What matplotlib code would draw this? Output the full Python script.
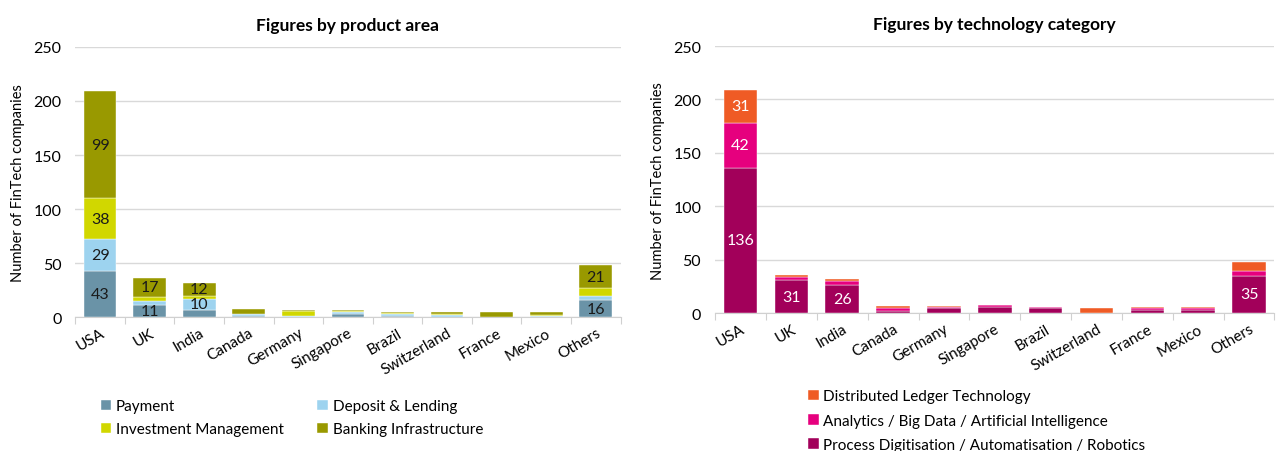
import numpy as np
import matplotlib.pyplot as plt

plt.rcParams['font.family'] = ['Lato', 'DejaVu Sans']

countries = ["USA", "UK", "India", "Canada", "Germany", "Singapore", "Brazil",
             "Switzerland", "France", "Mexico", "Others"]

# product area
payment = [43, 11, 7, 1, 0, 3, 1, 0, 0, 0, 16]
deposit = [29, 4, 10, 2, 1, 2, 2, 2, 0, 1, 4]
investment = [38, 4, 3, 0, 5, 1, 1, 1, 0, 1, 7]
banking = [99, 17, 12, 5, 1, 1, 1, 2, 5, 3, 21]

# technology category
process = [136, 31, 26, 2, 5, 6, 5, 0, 3, 3, 35]
analytics = [42, 3, 4, 3, 1, 2, 1, 0, 2, 2, 4]
ledger = [31, 2, 2, 2, 1, 0, 0, 5, 1, 1, 9]

fig = plt.figure(figsize=(12.77, 4.52), dpi=100)
ax1 = fig.add_axes([0.059, 0.296, 0.427, 0.598])
ax2 = fig.add_axes([0.560, 0.305, 0.438, 0.591])

x = np.arange(len(countries))


def draw(ax, series, names, colors, txtcolor, title):
    bottom = np.zeros(len(countries))
    for vals, name, col in zip(series, names, colors):
        vals = np.array(vals, dtype=float)
        ax.bar(x, vals, 0.66, bottom=bottom, color=col, label=name,
               edgecolor='white', linewidth=0.3, zorder=3)
        for i, v in enumerate(vals):
            if v >= 10:
                ax.text(x[i], bottom[i] + v / 2, f"{int(v)}", ha='center', va='center',
                        fontsize=11.5, color=txtcolor, zorder=4)
        bottom += vals
    ax.set_ylim(0, 250)
    ax.set_xlim(-0.5, len(countries) - 0.5)
    ax.set_yticks(range(0, 251, 50))
    ax.yaxis.grid(True, color='#d9d9d9', linewidth=1, zorder=0)
    ax.set_axisbelow(True)
    for s in ['top', 'right', 'left']:
        ax.spines[s].set_visible(False)
    ax.spines['bottom'].set_color('#d0d0d0')
    ax.set_xticks(np.arange(-0.5, len(countries), 1))
    ax.set_xticklabels([])
    ax.set_xticks(x, minor=True)
    ax.set_xticklabels(countries, minor=True, rotation=30, ha='right', fontsize=11,
                       rotation_mode='anchor')
    ax.tick_params(axis='x', which='major', length=5, color='#d0d0d0')
    ax.tick_params(axis='x', which='minor', length=0, pad=6)
    ax.tick_params(axis='y', length=0, labelsize=11.5, pad=10)
    ax.set_ylabel("Number of FinTech companies", fontsize=10.5, labelpad=6)
    ax.set_title(title, fontsize=12.5, fontweight='bold', pad=12)


draw(ax1, [payment, deposit, investment, banking],
     ["Payment", "Deposit & Lending", "Investment Management", "Banking Infrastructure"],
     ['#6a93a7', '#9dd3ef', '#d1d700', '#999900'], '#1a1a1a', "Figures by product area")
draw(ax2, [process, analytics, ledger],
     ["Process Digitisation / Automatisation / Robotics",
      "Analytics / Big Data / Artificial Intelligence",
      "Distributed Ledger Technology"],
     ['#a2005a', '#e6007e', '#ef5b25'], 'white', "Figures by technology category")

h, l = ax1.get_legend_handles_labels()
order = [0, 2, 1, 3]
fig.legend([h[i] for i in order], [l[i] for i in order], ncol=2, loc='upper left',
           bbox_to_anchor=(0.074, 0.128), frameon=False,
           fontsize=11, handlelength=0.7, handleheight=0.7, handletextpad=0.3,
           columnspacing=2.2, labelspacing=0.6, borderaxespad=0)

h, l = ax2.get_legend_handles_labels()
fig.legend(h[::-1], l[::-1], ncol=1, loc='upper left', bbox_to_anchor=(0.628, 0.15),
           frameon=False, fontsize=11, handlelength=0.7, handleheight=0.7,
           handletextpad=0.3, labelspacing=0.68, borderaxespad=0)

fig.savefig("out.png", dpi=100)
